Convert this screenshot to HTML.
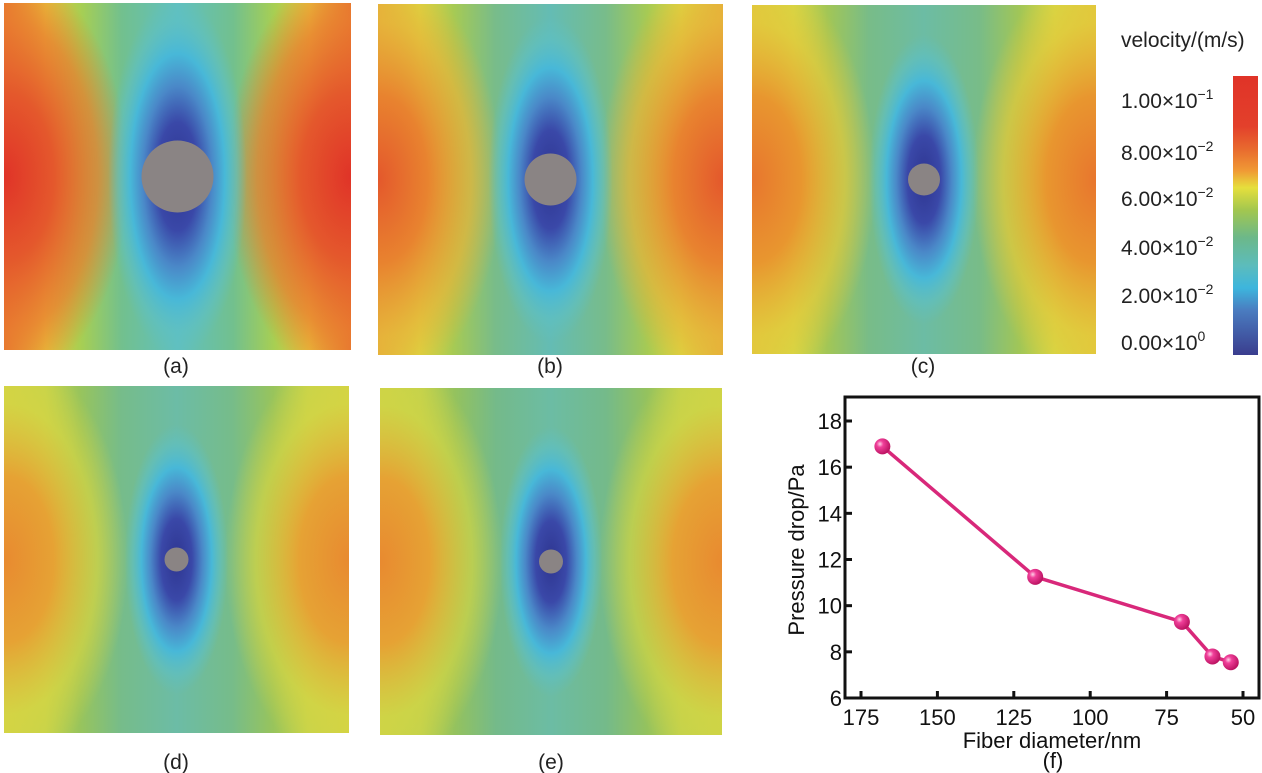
<!DOCTYPE html>
<html><head><meta charset="utf-8"><style>
body{margin:0;background:#fff;width:1262px;height:773px;overflow:hidden;font-family:"Liberation Sans",sans-serif}
svg{position:absolute;left:0;top:0}
</style></head><body>
<svg id="s" width="1262" height="773" xmlns="http://www.w3.org/2000/svg">
<defs>
<radialGradient id="ball" cx="0.35" cy="0.35" r="0.7"><stop offset="0" stop-color="#ffd0e6"/><stop offset="0.3" stop-color="#f0409a"/><stop offset="1" stop-color="#b8105e"/></radialGradient>
<linearGradient id="cbar" x1="0" y1="0" x2="0" y2="1">
<stop offset="0" stop-color="#e03328"/><stop offset="0.18" stop-color="#e3402b"/><stop offset="0.26" stop-color="#e8692e"/><stop offset="0.34" stop-color="#f09a35"/><stop offset="0.4" stop-color="#e6df3c"/><stop offset="0.48" stop-color="#a3c74f"/><stop offset="0.58" stop-color="#6cb88a"/><stop offset="0.68" stop-color="#5cbcbc"/><stop offset="0.76" stop-color="#3db5dd"/><stop offset="0.84" stop-color="#4a7cc0"/><stop offset="1" stop-color="#3a3d8e"/>
</linearGradient>
</defs>
<g id="panels"></g>
<g id="colorbar">
<text x="1121" y="47" font-size="21" fill="#222">velocity/(m/s)</text>
<rect x="1233" y="76" width="25" height="279" fill="url(#cbar)"/>
<g font-size="21" fill="#222">
<text x="1121" y="108">1.00×10<tspan font-size="14" dy="-9">−1</tspan></text>
<text x="1121" y="160">8.00×10<tspan font-size="14" dy="-9">−2</tspan></text>
<text x="1121" y="206">6.00×10<tspan font-size="14" dy="-9">−2</tspan></text>
<text x="1121" y="255">4.00×10<tspan font-size="14" dy="-9">−2</tspan></text>
<text x="1121" y="303">2.00×10<tspan font-size="14" dy="-9">−2</tspan></text>
<text x="1121" y="350">0.00×10<tspan font-size="14" dy="-9">0</tspan></text>
</g></g>
<g id="chart"></g>
</svg>
<script>
const diameters=[168,118,70,60,54];
const pressures=[16.9,11.25,9.3,7.8,7.55];
const xTicks=[175,150,125,100,75,50];
const yTicks=[6,8,10,12,14,16,18];

const NS="http://www.w3.org/2000/svg";
function mk(tag,attrs,parent){const e=document.createElementNS(NS,tag);for(const k in attrs)e.setAttribute(k,attrs[k]);parent.appendChild(e);return e;}
const defs=document.querySelector('defs');
const pg=document.getElementById('panels');
const panels=[
 {id:'a',x:4,y:3,w:347,h:347,cr:36,edge:['#e8792f','#e4582c','#e03328'],mid:['#e7c33b','#a8cf52','#72c08e','#60c0c0'],blue:1.0,lx:176,ly:366},
 {id:'b',x:378,y:4,w:345,h:351,cr:26,edge:['#e6b23a','#e8832f','#e4582c'],mid:['#dcd840','#a6ca54','#78bc8a','#64bcb4'],blue:0.9,lx:550,ly:366},
 {id:'c',x:752,y:5,w:344,h:349,cr:16,edge:['#e2c83c','#e8962f','#e8762e'],mid:['#d6d844','#a2c656','#78bc88','#6cbca4'],blue:0.8,lx:923,ly:366},
 {id:'d',x:4,y:386,w:345,h:347,cr:12,edge:['#d4d444','#e6a234','#e88a30'],mid:['#c6d44a','#98c45c','#76bc8a','#6cbca6'],blue:0.75,lx:176,ly:762},
 {id:'e',x:380,y:388,w:342,h:347,cr:12,edge:['#cfd446','#e6a234','#e88a30'],mid:['#c2d24c','#94c25e','#74ba8a','#6cbca4'],blue:0.75,lx:551,ly:762}
];
panels.forEach(p=>{
 const lg=mk('linearGradient',{id:'lg'+p.id,x1:0,y1:0,x2:1,y2:0},defs);
 const st=[[0,p.edge[0]],[0.12,p.mid[0]],[0.22,p.mid[1]],[0.34,p.mid[2]],[0.5,p.mid[3]],[0.66,p.mid[2]],[0.78,p.mid[1]],[0.88,p.mid[0]],[1,p.edge[0]]];
 st.forEach(s=>mk('stop',{offset:s[0],'stop-color':s[1]},lg));
 const hg=mk('radialGradient',{id:'hg'+p.id},defs);
 mk('stop',{offset:0,'stop-color':p.edge[2]},hg);mk('stop',{offset:0.4,'stop-color':p.edge[1]},hg);
 mk('stop',{offset:0.75,'stop-color':p.edge[0],'stop-opacity':0.7},hg);mk('stop',{offset:1,'stop-color':p.edge[0],'stop-opacity':0},hg);
 const bg=mk('radialGradient',{id:'bg'+p.id},defs);
 mk('stop',{offset:0,'stop-color':'#2e3590'},bg);mk('stop',{offset:0.3,'stop-color':'#3a48a8'},bg);
 mk('stop',{offset:0.5,'stop-color':'#4a88c8'},bg);mk('stop',{offset:0.68,'stop-color':'#48b8d8'},bg);
 mk('stop',{offset:0.85,'stop-color':'#5cbfc6','stop-opacity':0.6},bg);
 mk('stop',{offset:1,'stop-color':'#60c0c0','stop-opacity':0},bg);
 const g=mk('g',{},pg);
 
 
 const cp=mk('clipPath',{id:'cp'+p.id},defs);mk('rect',{x:p.x,y:p.y,width:p.w,height:p.h},cp);
 const gi=mk('g',{'clip-path':'url(#cp'+p.id+')'},g);
 mk('rect',{x:p.x,y:p.y,width:p.w,height:p.h,fill:'url(#lg'+p.id+')'},gi);
 const cx=p.x+p.w/2, cy=p.y+p.h/2;
 mk('ellipse',{cx:p.x,cy:cy,rx:p.w*0.36,ry:p.h*0.6,fill:'url(#hg'+p.id+')'},gi);
 mk('ellipse',{cx:p.x+p.w,cy:cy,rx:p.w*0.36,ry:p.h*0.6,fill:'url(#hg'+p.id+')'},gi);
 mk('ellipse',{cx:cx,cy:cy,rx:p.w*0.2*p.blue,ry:p.h*0.52*p.blue,fill:'url(#bg'+p.id+')'},gi);
 const c=mk('circle',{cx:cx,cy:cy,r:p.cr,fill:'#8a8484'},g);
 
 
 const t=mk('text',{x:p.lx,y:p.ly+7,'font-size':21,'text-anchor':'middle',fill:'#222'},g);
 t.textContent='('+p.id+')';
 
 
});
const ch=document.getElementById('chart');
const L=845,R=1259,T=397,B=698;
const X=v=>861+(175-v)*(1243-861)/125;
const Y=v=>698-(v-6)*(698-421)/12;
const fr=mk('rect',{x:L,y:T,width:R-L,height:B-T,fill:'none',stroke:'#111','stroke-width':3},ch);


xTicks.forEach(v=>{
 mk('line',{x1:X(v),x2:X(v),y1:B,y2:B-7,stroke:'#111','stroke-width':3},ch);
 const t=mk('text',{x:X(v),y:B+27,'font-size':22,'text-anchor':'middle',fill:'#111'},ch);
 t.textContent=v;
 
 
});
yTicks.forEach(v=>{
 mk('line',{x1:L,x2:L+7,y1:Y(v),y2:Y(v),stroke:'#111','stroke-width':3},ch);
 const t=mk('text',{x:L-3,y:Y(v)+8,'font-size':22,'text-anchor':'end',fill:'#111'},ch);
 t.textContent=v;
 
 
});
const pl=mk('polyline',{points:diameters.map((d,i)=>X(d)+','+Y(pressures[i])).join(' '),fill:'none',stroke:'#d8287a','stroke-width':3.5},ch);


diameters.forEach((d,i)=>{
 const c=mk('circle',{cx:X(d),cy:Y(pressures[i]),r:8,fill:'url(#ball)'},ch);
 
 
});
const xt=mk('text',{x:1052,y:748,'font-size':22,'text-anchor':'middle',fill:'#111'},ch);
xt.textContent='Fiber diameter/nm';


const yt=mk('text',{x:0,y:0,'font-size':22,'text-anchor':'middle',fill:'#111',transform:'translate(804,550) rotate(-90)'},ch);
yt.textContent='Pressure drop/Pa';


const ft=mk('text',{x:1053,y:768,'font-size':22,'text-anchor':'middle',fill:'#111'},ch);
ft.textContent='(f)';


</script>
</body></html>
